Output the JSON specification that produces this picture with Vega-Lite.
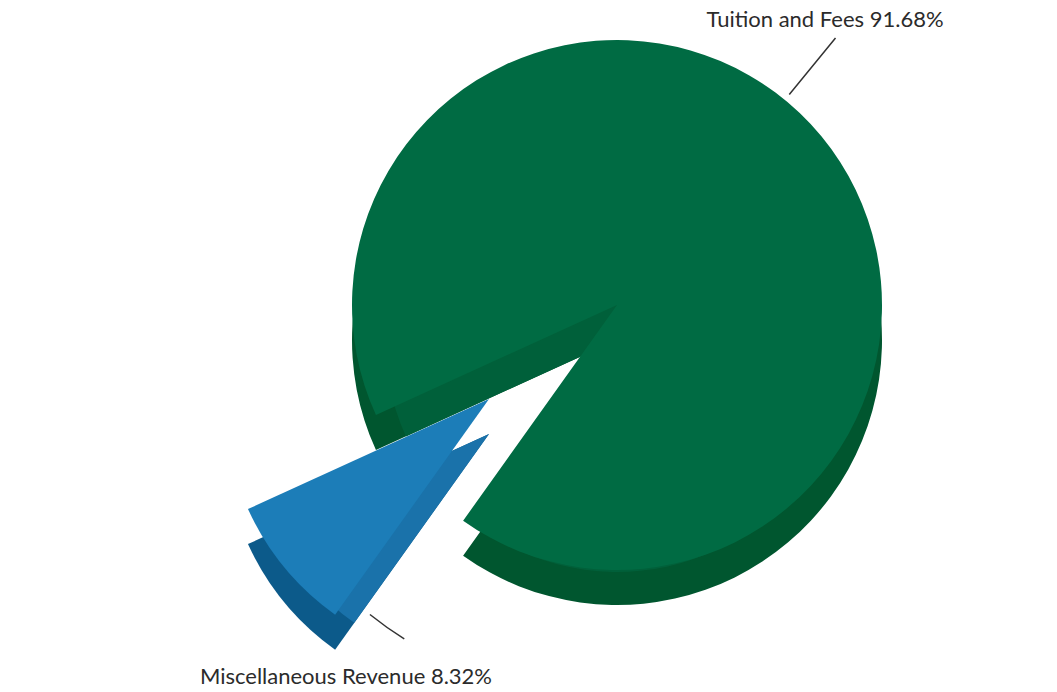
{
  "$schema": "https://vega.github.io/schema/vega-lite/v6.json",
  "autosize": "none",
  "width": 860,
  "height": 610,
  "padding": {"left": 187, "top": 0, "right": 10, "bottom": 82},
  "background": "white",
  "config": {"view": {"stroke": null}},
  "datasets": {
    "shares": [
      {"category": "Miscellaneous Revenue", "share": 8.32, "rank": 1},
      {"category": "Tuition and Fees", "share": 91.68, "rank": 2}
    ]
  },
  "data": {"name": "shares"},
  "transform": [
    {"calculate": "datum.category + ' ' + format(datum.share, '.2f') + '%'", "as": "label"}
  ],
  "resolve": {"scale": {"theta": "independent"}},
  "layer": [
    {
      "mark": {"type": "arc", "radius": 265, "yOffset": 35},
      "encoding": {
        "theta": {"field": "share", "type": "quantitative", "stack": true, "scale": {"domain": [0, 100], "range": [3.7612, 10.0444]}},
        "order": {"field": "rank", "type": "quantitative"},
        "fill": {"condition": {"test": "datum.category === 'Tuition and Fees'", "value": "#00562f"}, "value": "transparent"}
      }
    },
    {
      "mark": {"type": "arc", "radius": 232, "yOffset": 35},
      "encoding": {
        "theta": {"field": "share", "type": "quantitative", "stack": true, "scale": {"domain": [0, 100], "range": [3.7612, 10.0444]}},
        "order": {"field": "rank", "type": "quantitative"},
        "fill": {"condition": {"test": "datum.category === 'Tuition and Fees'", "value": "#00603a"}, "value": "transparent"}
      }
    },
    {
      "mark": {"type": "arc", "radius": 265},
      "encoding": {
        "theta": {"field": "share", "type": "quantitative", "stack": true, "scale": {"domain": [0, 100], "range": [3.7612, 10.0444]}},
        "order": {"field": "rank", "type": "quantitative"},
        "fill": {"condition": {"test": "datum.category === 'Tuition and Fees'", "value": "#006b43"}, "value": "transparent"}
      }
    },
    {
      "mark": {"type": "arc", "radius": 265, "xOffset": -128, "yOffset": 129},
      "encoding": {
        "theta": {"field": "share", "type": "quantitative", "stack": true, "scale": {"domain": [0, 100], "range": [3.7612, 10.0444]}},
        "order": {"field": "rank", "type": "quantitative"},
        "fill": {"condition": {"test": "datum.category === 'Miscellaneous Revenue'", "value": "#0c5a8a"}, "value": "transparent"}
      }
    },
    {
      "mark": {"type": "arc", "radius": 232, "xOffset": -128, "yOffset": 129},
      "encoding": {
        "theta": {"field": "share", "type": "quantitative", "stack": true, "scale": {"domain": [0, 100], "range": [3.7612, 10.0444]}},
        "order": {"field": "rank", "type": "quantitative"},
        "fill": {"condition": {"test": "datum.category === 'Miscellaneous Revenue'", "value": "#1a72aa"}, "value": "transparent"}
      }
    },
    {
      "mark": {"type": "arc", "radius": 265, "xOffset": -128, "yOffset": 94},
      "encoding": {
        "theta": {"field": "share", "type": "quantitative", "stack": true, "scale": {"domain": [0, 100], "range": [3.7612, 10.0444]}},
        "order": {"field": "rank", "type": "quantitative"},
        "fill": {"condition": {"test": "datum.category === 'Miscellaneous Revenue'", "value": "#1c7db8"}, "value": "transparent"}
      }
    },
    {
      "transform": [{"filter": "datum.category === 'Tuition and Fees'"}],
      "mark": {"type": "arc", "theta": 0.6859, "theta2": 0.6859, "radius": 345, "radius2": 272, "fill": null, "stroke": "#333333", "strokeWidth": 1.5},
      "encoding": {}
    },
    {
      "transform": [{"filter": "datum.category === 'Miscellaneous Revenue'"}],
      "mark": {"type": "arc", "theta": 3.7088, "theta2": 3.8153, "radius": 396, "radius2": 396, "fill": null, "stroke": "#333333", "strokeWidth": 1.5},
      "encoding": {}
    },
    {
      "transform": [{"filter": "datum.category === 'Tuition and Fees'"}],
      "mark": {"type": "text", "theta": 0.6301, "radius": 353, "font": "Lato", "fontSize": 22, "color": "#2b2b2b", "align": "center", "baseline": "middle"},
      "encoding": {"text": {"field": "label", "type": "nominal"}}
    },
    {
      "transform": [{"filter": "datum.category === 'Miscellaneous Revenue'"}],
      "mark": {"type": "text", "theta": 3.7717, "radius": 460, "font": "Lato", "fontSize": 22, "color": "#2b2b2b", "align": "center", "baseline": "middle"},
      "encoding": {"text": {"field": "label", "type": "nominal"}}
    }
  ]
}
